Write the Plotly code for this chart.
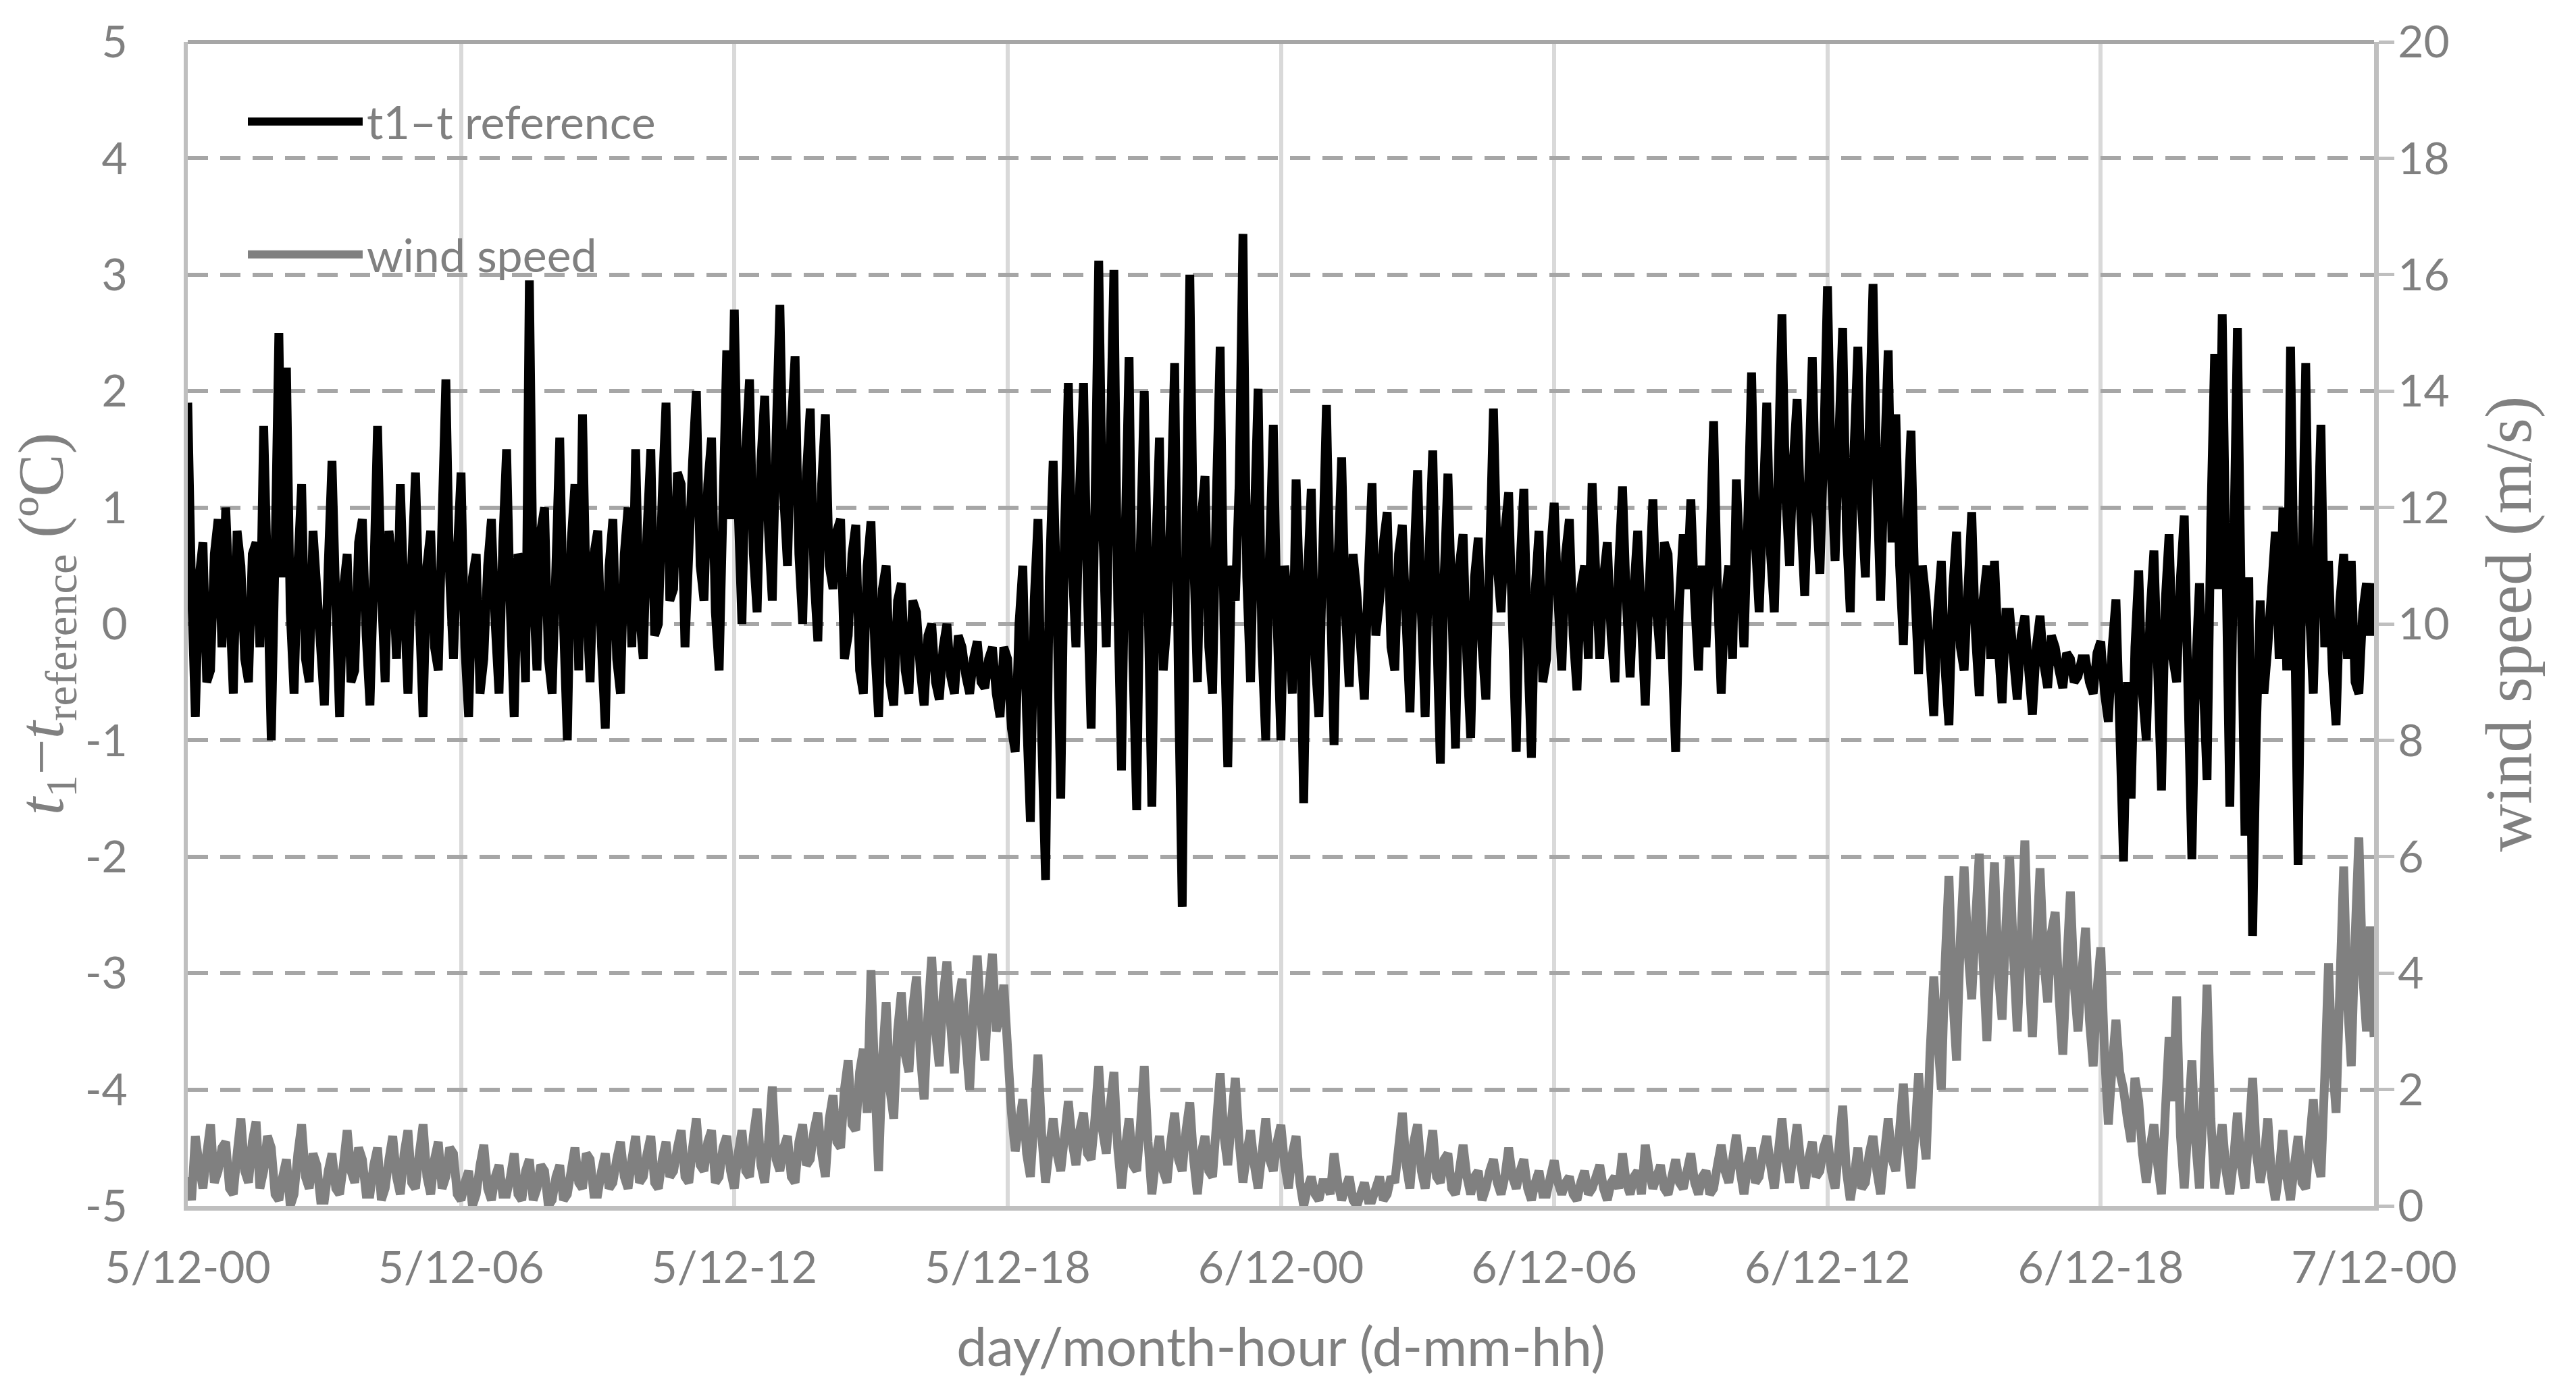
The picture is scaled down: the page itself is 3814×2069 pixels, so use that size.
"""Temperature difference t1 - t_reference and wind speed, 5/12 to 7/12."""

import plotly.graph_objects as go

# === Data (5-minute samples from 5/12-00 to 7/12-00) ===
SAMPLE_MINUTES = 5

T_DIFF = [
    1.9, 0.3, -0.8, 0.4, 0.7, -0.5, -0.4, 0.6, 0.9, -0.2, 1.0, 0.2,
    -0.6, 0.8, 0.5, -0.3, -0.5, 0.6, 0.7, -0.2, 1.7, 0.4, -1.0, 0.6,
    2.5, 0.4, 2.2, 0.1, -0.6, 0.5, 1.2, -0.3, -0.5, 0.8, 0.3, -0.2,
    -0.7, 0.5, 1.4, 0.2, -0.8, 0.3, 0.6, -0.5, -0.4, 0.7, 0.9, -0.1,
    -0.7, 0.4, 1.7, 0.3, -0.5, 0.8, 0.5, -0.3, 1.2, 0.2, -0.6, 0.5,
    1.3, 0.1, -0.8, 0.5, 0.8, -0.2, -0.4, 0.9, 2.1, 0.4, -0.3, 0.6,
    1.3, -0.2, -0.8, 0.4, 0.6, -0.6, -0.3, 0.5, 0.9, 0.0, -0.6, 0.7,
    1.5, 0.1, -0.8, 0.6, 0.5, -0.5, 2.95, 0.3, -0.4, 0.8, 1.0, -0.3,
    -0.6, 0.5, 1.6, 0.0, -1.0, 0.7, 1.2, -0.4, 1.8, 0.2, -0.5, 0.6,
    0.8, -0.2, -0.9, 0.5, 0.9, -0.3, -0.6, 0.6, 1.0, -0.2, 1.5, 0.1,
    -0.3, 0.8, 1.5, -0.1, 0.0, 1.1, 1.9, 0.2, 0.3, 1.3, 1.2, -0.2,
    0.6, 1.4, 2.0, 0.5, 0.2, 1.2, 1.6, 0.1, -0.4, 1.0, 2.35, 0.9,
    2.7, 1.0, 0.0, 1.5, 2.1, 0.6, 0.1, 1.4, 1.96, 0.8, 0.2, 1.6,
    2.74, 1.1, 0.5, 1.7, 2.3, 0.6, 0.0, 1.3, 1.85, 0.4, -0.15, 1.2,
    1.8, 0.5, 0.3, 0.8, 0.9, -0.3, -0.1, 0.6, 0.85, -0.4, -0.6, 0.5,
    0.88, -0.2, -0.8, 0.3, 0.5, -0.5, -0.7, 0.2, 0.35, -0.4, -0.6, 0.2,
    0.1, -0.4, -0.7, -0.1, 0.0, -0.5, -0.65, -0.2, 0.0, -0.45, -0.6, -0.1,
    -0.2, -0.45, -0.6, -0.3, -0.15, -0.5, -0.55, -0.3, -0.2, -0.6, -0.8, -0.2,
    -0.3, -0.9, -1.1, 0.0, 0.5, -0.8, -1.7, 0.2, 0.9, -1.0, -2.2, 0.4,
    1.4, 0.1, -1.5, 0.8, 2.07, 0.5, -0.2, 1.2, 2.07, 0.3, -0.9, 1.0,
    3.12, 0.9, -0.2, 1.5, 3.04, 0.2, -1.26, 0.8, 2.29, -0.3, -1.6, 0.7,
    2.0, 0.2, -1.57, 0.6, 1.6, -0.4, 0.0, 1.0, 2.24, -0.5, -2.43, 0.8,
    3.0, 0.6, -0.5, 0.9, 1.27, -0.2, -0.6, 1.1, 2.38, 0.0, -1.23, 0.5,
    0.2, 1.2, 3.35, 0.4, -0.5, 0.9, 2.02, -0.2, -1.0, 0.6, 1.71, 0.0,
    -1.0, 0.5, 0.1, -0.6, 1.24, 0.2, -1.54, 0.4, 1.16, -0.3, -0.8, 0.6,
    1.88, 0.3, -1.04, 0.5, 1.43, 0.1, -0.54, 0.6, 0.27, -0.2, -0.65, 0.4,
    1.21, -0.1, 0.2, 0.7, 0.96, -0.2, -0.4, 0.6, 0.85, 0.0, -0.76, 0.5,
    1.32, 0.1, -0.8, 0.6, 1.49, 0.0, -1.2, 0.4, 1.29, 0.2, -1.07, 0.5,
    0.77, -0.3, -0.98, 0.4, 0.74, -0.2, -0.65, 0.6, 1.85, 0.5, 0.1, 0.8,
    1.13, 0.0, -1.1, 0.5, 1.16, -0.2, -1.15, 0.3, 0.8, -0.5, -0.3, 0.6,
    1.04, 0.2, -0.4, 0.6, 0.9, -0.1, -0.57, 0.3, 0.5, -0.3, 1.21, 0.4,
    -0.3, 0.4, 0.7, -0.1, -0.5, 0.5, 1.18, 0.2, -0.46, 0.3, 0.8, 0.0,
    -0.7, 0.3, 1.07, 0.1, -0.3, 0.7, 0.6, -0.2, -1.1, 0.2, 0.77, 0.3,
    1.07, 0.2, -0.4, 0.5, -0.2, 0.6, 1.74, 0.3, -0.6, 0.2, 0.5, -0.3,
    1.24, 0.5, -0.2, 0.9, 2.16, 0.7, 0.1, 1.0, 1.9, 0.6, 0.1, 1.3,
    2.66, 1.1, 0.5, 1.4, 1.93, 0.9, 0.24, 1.2, 2.29, 1.0, 0.43, 1.5,
    2.9, 1.3, 0.54, 1.6, 2.54, 0.8, 0.1, 1.5, 2.38, 1.0, 0.4, 1.7,
    2.92, 1.2, 0.2, 1.4, 2.35, 0.7, 1.8, 0.5, -0.18, 0.9, 1.66, 0.3,
    -0.43, 0.5, 0.2, -0.3, -0.79, 0.1, 0.54, -0.4, -0.87, 0.3, 0.79, -0.2,
    -0.4, 0.3, 0.96, -0.1, -0.62, 0.2, 0.5, -0.3, 0.54, -0.2, -0.68, 0.1,
    0.1, -0.3, -0.65, -0.1, 0.07, -0.4, -0.78, -0.2, 0.07, -0.35, -0.55, -0.1,
    -0.2, -0.4, -0.55, -0.25, -0.3, -0.5, -0.45, -0.3, -0.3, -0.5, -0.6, -0.25,
    -0.15, -0.6, -0.84, -0.2, 0.21, -0.9, -2.04, -0.5, -1.5, -0.2, 0.46, -0.6,
    -1.0, 0.1, 0.63, -0.4, -1.43, 0.2, 0.77, -0.3, -0.5, 0.4, 0.93, -0.6,
    -2.02, -0.4, 0.35, -0.5, -1.34, 0.9, 2.32, 0.3, 2.66, 0.5, -1.57, 0.6,
    2.54, 0.2, -1.82, 0.4, -2.68, -0.9, 0.2, -0.6, -0.2, 0.3, 0.79, -0.3,
    1.0, -0.4, 2.38, 0.2, -2.07, 0.5, 2.24, 0.1, -0.6, 0.6, 1.71, -0.2,
    0.54, -0.4, -0.87, 0.2, 0.6, -0.3, 0.54, -0.5, -0.6, 0.1, 0.35, -0.1,
    0.35,
]

WIND_SPEED = [
    0.5, 0.1, 1.2, 0.7, 0.3, 0.9, 1.4, 0.4, 0.6, 1.0, 1.1, 0.3,
    0.2, 0.9, 1.5, 0.6, 0.4, 1.1, 1.45, 0.3, 0.6, 1.2, 1.0, 0.2,
    0.1, 0.5, 0.8, 0.0, 0.2, 0.9, 1.4, 0.5, 0.3, 0.9, 0.7, 0.1,
    0.1, 0.6, 0.9, 0.3, 0.2, 0.7, 1.3, 0.6, 0.4, 1.0, 0.8, 0.2,
    0.2, 0.7, 1.0, 0.1, 0.3, 0.8, 1.2, 0.5, 0.2, 0.9, 1.3, 0.4,
    0.3, 0.9, 1.4, 0.5, 0.2, 0.8, 1.1, 0.3, 0.5, 1.0, 0.9, 0.2,
    0.1, 0.4, 0.6, 0.0, 0.2, 0.7, 1.05, 0.3, 0.1, 0.5, 0.7, 0.2,
    0.2, 0.5, 0.9, 0.2, 0.1, 0.6, 0.8, 0.1, 0.3, 0.7, 0.6, 0.0,
    0.1, 0.5, 0.7, 0.1, 0.2, 0.6, 1.0, 0.4, 0.3, 0.9, 0.8, 0.2,
    0.2, 0.6, 0.9, 0.3, 0.4, 0.8, 1.1, 0.5, 0.3, 0.8, 1.2, 0.4,
    0.5, 0.9, 1.2, 0.4, 0.3, 0.8, 1.1, 0.5, 0.6, 1.0, 1.3, 0.5,
    0.4, 1.0, 1.5, 0.7, 0.6, 1.1, 1.3, 0.4, 0.5, 1.0, 1.2, 0.6,
    0.3, 0.9, 1.3, 0.6, 0.5, 1.2, 1.67, 0.7, 0.4, 1.1, 2.05, 0.8,
    0.6, 1.0, 1.2, 0.5, 0.4, 1.1, 1.4, 0.7, 0.8, 1.3, 1.6, 0.9,
    0.5, 1.5, 1.9, 1.1, 1.0, 2.0, 2.5, 1.4, 1.3, 2.3, 2.7, 1.6,
    4.05, 2.2, 0.6, 2.5, 3.5, 2.0, 1.5, 3.0, 3.67, 2.6, 2.3, 3.4,
    3.94, 2.6, 1.83, 3.3, 4.28, 3.0, 2.4, 3.6, 4.2, 3.1, 2.28, 3.5,
    3.9, 2.8, 2.0, 3.4, 4.3, 3.2, 2.5, 3.7, 4.33, 3.0, 3.28, 3.8,
    2.7, 1.6, 0.94, 1.4, 1.83, 0.9, 0.5, 1.5, 2.6, 1.2, 0.4, 1.0,
    1.5, 0.9, 0.6, 1.2, 1.8, 1.1, 0.7, 1.3, 1.6, 0.9, 0.8, 1.5,
    2.4, 1.3, 0.9, 1.7, 2.3, 1.0, 0.3, 1.0, 1.5, 0.7, 0.6, 1.4,
    2.4, 1.1, 0.2, 0.8, 1.2, 0.6, 0.4, 1.1, 1.6, 0.8, 0.6, 1.3,
    1.78, 0.8, 0.2, 0.9, 1.2, 0.6, 0.5, 1.4, 2.28, 1.2, 0.7, 1.5,
    2.2, 1.1, 0.4, 0.9, 1.3, 0.7, 0.3, 0.9, 1.5, 0.8, 0.6, 1.1,
    1.39, 0.7, 0.3, 0.9, 1.2, 0.4, 0.0, 0.3, 0.5, 0.2, 0.1, 0.4,
    0.4, 0.2, 0.9, 0.4, 0.1, 0.3, 0.5, 0.1, 0.0, 0.2, 0.4, 0.1,
    0.1, 0.3, 0.5, 0.1, 0.2, 0.5, 0.4, 1.0, 1.6, 0.7, 0.3, 1.1,
    1.4, 0.6, 0.3, 0.8, 1.3, 0.5, 0.4, 0.8, 0.9, 0.3, 0.2, 0.6,
    1.05, 0.5, 0.2, 0.5, 0.6, 0.1, 0.3, 0.6, 0.8, 0.4, 0.2, 0.5,
    1.0, 0.5, 0.3, 0.6, 0.8, 0.3, 0.1, 0.4, 0.6, 0.2, 0.2, 0.5,
    0.78, 0.4, 0.2, 0.4, 0.5, 0.2, 0.1, 0.4, 0.6, 0.2, 0.3, 0.5,
    0.7, 0.3, 0.1, 0.4, 0.5, 0.3, 0.9, 0.4, 0.2, 0.5, 0.6, 0.2,
    1.05, 0.6, 0.3, 0.5, 0.7, 0.3, 0.2, 0.5, 0.8, 0.4, 0.3, 0.6,
    0.9, 0.4, 0.2, 0.5, 0.6, 0.2, 0.3, 0.7, 1.05, 0.6, 0.4, 0.8,
    1.22, 0.6, 0.2, 0.7, 1.0, 0.4, 0.5, 0.9, 1.2, 0.7, 0.3, 0.9,
    1.5, 0.8, 0.4, 0.9, 1.4, 0.7, 0.3, 0.8, 1.1, 0.5, 0.6, 1.0,
    1.2, 0.6, 0.3, 1.0, 1.72, 0.6, 0.1, 0.5, 1.0, 0.3, 0.4, 0.9,
    1.2, 0.6, 0.2, 0.9, 1.5, 0.8, 0.6, 1.3, 2.1, 1.0, 0.3, 1.2,
    2.28, 1.4, 0.8, 2.6, 3.94, 2.9, 2.0, 4.2, 5.67, 3.6, 2.5, 4.6,
    5.83, 4.4, 3.55, 4.9, 6.05, 4.2, 2.83, 4.5, 5.9, 4.0, 3.2, 4.8,
    6.0, 4.3, 3.0, 4.6, 6.28, 4.1, 2.9, 4.4, 5.8, 4.2, 3.5, 4.7,
    5.05, 3.6, 2.6, 4.1, 5.4, 3.8, 3.0, 4.0, 4.78, 3.2, 2.4, 3.7,
    4.44, 2.6, 1.4, 2.4, 3.2, 2.3, 2.0, 1.5, 1.1, 2.2, 1.8, 0.9,
    0.4, 1.0, 1.4, 0.7, 0.2, 1.6, 2.9, 1.8, 3.6, 1.2, 0.3, 1.4,
    2.5, 1.1, 0.3, 1.7, 3.8, 1.5, 0.3, 0.9, 1.4, 0.6, 0.2, 0.8,
    1.6, 0.7, 0.3, 1.2, 2.2, 0.9, 0.4, 0.8, 1.5, 0.5, 0.1, 0.6,
    1.3, 0.5, 0.1, 0.7, 1.2, 0.4, 0.3, 1.1, 1.83, 0.8, 0.5, 2.2,
    4.17, 2.5, 1.6, 3.8, 5.83, 3.5, 2.4, 4.6, 6.33, 4.0, 3.0, 4.8,
    2.9,
]

X_TICK_HOURS = [0, 6, 12, 18, 24, 30, 36, 42, 48]
X_TICK_TEXT = ["5/12-00", "5/12-06", "5/12-12", "5/12-18", "6/12-00",
               "6/12-06", "6/12-12", "6/12-18", "7/12-00"]
Y_TICKS = [-5, -4, -3, -2, -1, 0, 1, 2, 3, 4, 5]
Y_TICK_TEXT = ["-5", "-4", "-3", "-2", "-1", "0", "1", "2", "3", "4", "5"]
Y2_TICKS = [0, 2, 4, 6, 8, 10, 12, 14, 16, 18, 20]

hours = [i * SAMPLE_MINUTES / 60 for i in range(len(T_DIFF))]

# === Style ===
TEXT_GREY = "#808080"
SANS = "Lato, 'Open Sans', sans-serif"
SERIF = "'Liberation Serif', 'DejaVu Serif', serif"

fig = go.Figure()

fig.add_trace(go.Scatter(
    x=hours,
    y=T_DIFF,
    mode="lines",
    name="t1–t reference",
    line=dict(color="#000000", width=13, simplify=False),
    yaxis="y",
))

fig.add_trace(go.Scatter(
    x=hours,
    y=WIND_SPEED,
    mode="lines",
    name="wind speed",
    line=dict(color="#808080", width=13, simplify=False),
    yaxis="y2",
))

# legend drawn by hand, with long line samples as in the original
legend_items = [("t1–t reference", "#000000", 0.9316), ("wind speed", "#808080", 0.8175)]
shapes = [dict(type="line", xref="paper", yref="paper", x0=0, x1=1, y0=1, y1=1,
               line=dict(color="#a6a6a6", width=6))]
annotations = []
for label, color, ypos in legend_items:
    shapes.append(dict(type="line", xref="paper", yref="paper",
                       x0=0.0275, x1=0.0800, y0=ypos, y1=ypos,
                       line=dict(color=color, width=12)))
    annotations.append(dict(text=label, xref="paper", yref="paper",
                            x=0.0812, y=ypos, xanchor="left", yanchor="middle",
                            showarrow=False, font=dict(family=SANS, size=68, color=TEXT_GREY)))

fig.update_layout(
    width=3814,
    height=2069,
    margin=dict(l=270, r=307, t=52, b=291),
    plot_bgcolor="#ffffff",
    paper_bgcolor="#ffffff",
    font=dict(family=SANS, color=TEXT_GREY, size=66),
    showlegend=False,
    shapes=shapes,
    annotations=annotations,
    xaxis=dict(
        range=[0, 48],
        tickvals=X_TICK_HOURS,
        ticktext=X_TICK_TEXT,
        tickfont=dict(family=SANS, size=66, color=TEXT_GREY),
        ticklabelstandoff=28,
        showgrid=True,
        gridcolor="#d9d9d9",
        gridwidth=6,
        zeroline=False,
        showline=True,
        linecolor="#bfbfbf",
        linewidth=7,
        title=dict(text="day/month-hour (d-mm-hh)", standoff=56,
                   font=dict(family=SANS, size=80, color=TEXT_GREY)),
    ),
    yaxis=dict(
        range=[-5, 5],
        tickvals=Y_TICKS,
        ticktext=Y_TICK_TEXT,
        tickfont=dict(family=SANS, size=66, color=TEXT_GREY),
        ticklabelstandoff=70,
        showgrid=True,
        gridcolor="#a6a6a6",
        gridwidth=6,
        griddash="30px,18px",
        zeroline=False,
        showline=True,
        linecolor="#bfbfbf",
        linewidth=6,
        title=dict(text="<i>t</i><sub>1</sub>−<i>t</i><sub>reference</sub> (ºC)", standoff=12,
                   font=dict(family=SERIF, size=95, color=TEXT_GREY)),
    ),
    yaxis2=dict(
        range=[0, 20],
        tickvals=Y2_TICKS,
        overlaying="y",
        side="right",
        tickfont=dict(family=SANS, size=66, color=TEXT_GREY),
        ticks="outside",
        ticklen=23,
        tickwidth=5,
        tickcolor="#bfbfbf",
        ticklabelstandoff=-8,
        showgrid=False,
        zeroline=False,
        showline=True,
        linecolor="#bfbfbf",
        linewidth=7,
        title=dict(text="wind speed (m/s)", standoff=55,
                   font=dict(family=SERIF, size=98, color=TEXT_GREY)),
    ),
)

fig.write_html("out.html")
